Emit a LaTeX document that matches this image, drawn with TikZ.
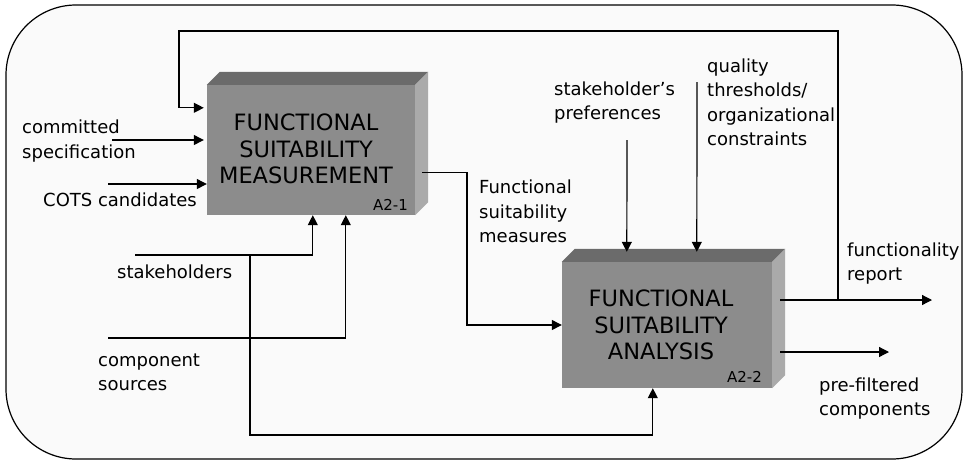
\documentclass[tikz,border=0pt]{standalone}
\usepackage{fontspec}
\setmainfont{DejaVu Sans}
\usetikzlibrary{arrows.meta,calc}
\definecolor{bgfill}{HTML}{FAFAFA}
\definecolor{frontf}{HTML}{8C8C8C}
\definecolor{topf}{HTML}{6B6B6B}
\definecolor{sidef}{HTML}{AAAAAA}
\begin{document}
\begin{tikzpicture}[x=1pt,y=-1pt,
  arr/.style={-{Triangle[length=10pt,width=10pt]}, line width=1.2pt},
  lbl/.style={font=\fontsize{18}{24.5}\selectfont, align=left, inner sep=0pt, anchor=west},
  boxf/.style={fill=frontf, inner sep=0pt},
  boxtxt/.style={font=\fontsize{22.5}{26.5}\selectfont, align=center, inner sep=0pt},
  code/.style={font=\fontsize{15}{16}\selectfont, inner sep=0pt}]
\useasboundingbox (0,0) rectangle (968,461);
\draw[line width=1.2pt, fill=bgfill, rounded corners=70pt] (6,5) rectangle (962,459);

% box 1
\node[boxf, minimum width=208pt, minimum height=130pt] (b1) at (311,150) {};
\fill[topf] (b1.north west) -- ++(13,-13) -- ($(b1.north east)+(13,-13)$) -- (b1.north east) -- cycle;
\fill[sidef] (b1.north east) -- ++(13,-13) -- ($(b1.south east)+(13,-13)$) -- (b1.south east) -- cycle;
\node[boxtxt] (b1t) at (306,149) {FUNCTIONAL\\SUITABILITY\\MEASUREMENT};
\node[code, anchor=east] (b1c) at (408,205) {A2-1};

% box 2
\node[boxf, minimum width=210pt, minimum height=126pt] (b2) at (667,325) {};
\fill[topf] (b2.north west) -- ++(13,-13) -- ($(b2.north east)+(13,-13)$) -- (b2.north east) -- cycle;
\fill[sidef] (b2.north east) -- ++(13,-13) -- ($(b2.south east)+(13,-13)$) -- (b2.south east) -- cycle;
\node[boxtxt] (b2t) at (661,325) {FUNCTIONAL\\SUITABILITY\\ANALYSIS};
\node[code, anchor=east] (b2c) at (762,377) {A2-2};

% labels
\node[lbl] (lcs) at (22,141) {committed\\specification};
\node[lbl] (lcots) at (43,200) {COTS candidates};
\node[lbl] (lsh) at (117,272) {stakeholders};
\node[lbl] (lcomp) at (98,372.5) {component\\sources};
\node[lbl] (lfsm) at (479,211.5) {Functional\\suitability\\measures};
\node[lbl] (lpref) at (554,102.5) {stakeholder’s\\preferences};
\node[lbl] (lqual) at (707,102.5) {quality\\thresholds/\\organizational\\constraints};
\node[lbl] (lrep) at (847,263.5) {functionality\\report};
\node[lbl] (lpre) at (819,398.5) {pre-filtered\\components};

% coordinates
\coordinate (ci) at (112,140);
\coordinate (cc) at (108,184);
\coordinate (s1) at (135,255);
\coordinate (s2) at (250,255);
\coordinate (sb) at (250,435);
\coordinate (c1) at (108,338);
\coordinate (o1) at ($(b1.south east)+(7,-43)$);
\coordinate (j1) at (467,250);
\coordinate (o2) at (780,300);
\coordinate (e2) at (932,300);
\coordinate (fb) at (838,300);
\coordinate (tl) at (179,31);
\coordinate (fin) at ($(b1.north west)+(-3,23)$);
\coordinate (o3) at (780,352);
\coordinate (e3) at (889,352);
\coordinate (p1) at (627,140);
\coordinate (q1) at (697,82);

% connectors
\draw[arr] (ci) -- ($(ci -| b1.west)+(-3,0)$);
\draw[arr] (cc) -- (cc -| b1.west);
\draw[arr] (fb) |- (tl) |- (fin);
\draw[arr] (s1) -| ($(b1.south west)+(106,0)$);
\draw[arr] (s2) -- (sb) -| ($(b2.south west)+(91,0)$);
\draw[arr] (c1) -| ($(b1.south west)+(139,0)$);
\draw[arr] (o1) -| (j1) |- (b2.west);
\draw[arr] (o2) -- (e2);
\draw[arr] (o3) -- (e3);
\draw[arr] (p1) -- ($(b2.north west)+(65,-10)$);
\draw[arr] (q1) -- ($(b2.north west)+(135,-10)$);
\end{tikzpicture}
\end{document}
